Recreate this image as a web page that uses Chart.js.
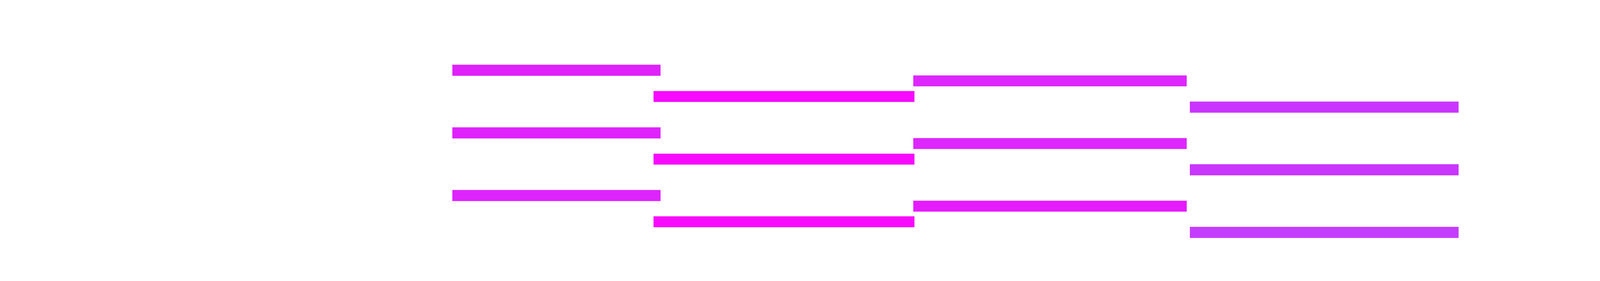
<!DOCTYPE html>
<html>
<head>
<meta charset="utf-8">
<script src="https://cdn.jsdelivr.net/npm/chart.js@4.4.1/dist/chart.umd.min.js"></script>
<style>
    html, body { margin: 0; padding: 0; background: #ffffff; }
    #wrap { width: 7200px; height: 720px; position: relative; }
</style>
</head>
<body>
<div id="wrap"><canvas id="ganttChart"></canvas></div>
<script>
// --- Data ---
const rows = ['A', 'B', 'C'];

// x range of each phase, one value per row
const phase1Start = [115.8, 115.8, 115.8];
const phase1End   = [169.1, 169.1, 169.1];
const phase2Start = [167.3, 167.3, 167.3];
const phase2End   = [234.1, 234.1, 234.1];
const phase3Start = [233.8, 233.8, 233.8];
const phase3End   = [303.8, 303.8, 303.8];
const phase4Start = [304.6, 304.6, 304.6];
const phase4End   = [373.4, 373.4, 373.4];

// per bar colours
const phase1Colors = ['#DF22FB', '#DF22FB', '#DD24FC'];
const phase2Colors = ['#F70AFD', '#F70AFD', '#F80AFE'];
const phase3Colors = ['#DD27FD', '#DD27FD', '#E51CFE'];
const phase4Colors = ['#C936FD', '#C936FD', '#C53DFC'];

const ranges = (starts, ends) => starts.map((s, i) => [s, ends[i]]);

document.addEventListener('DOMContentLoaded', () => {
    const ctx = document.getElementById('ganttChart').getContext('2d');
    new Chart(ctx, {
        type: 'bar',
        data: {
            labels: rows,
            datasets: [
                // order here is top-to-bottom inside each row
                { label: 'Phase 1', data: ranges(phase1Start, phase1End), backgroundColor: phase1Colors,
                  categoryPercentage: 0.785, barPercentage: 0.9 },
                { label: 'Phase 3', data: ranges(phase3Start, phase3End), backgroundColor: phase3Colors,
                  categoryPercentage: 1.0, barPercentage: 0.7 },
                { label: 'Phase 2', data: ranges(phase2Start, phase2End), backgroundColor: phase2Colors,
                  categoryPercentage: 1.0, barPercentage: 0.7 },
                { label: 'Phase 4', data: ranges(phase4Start, phase4End), backgroundColor: phase4Colors,
                  categoryPercentage: 0.785, barPercentage: 0.9 }
            ]
        },
        options: {
            indexAxis: 'y',
            responsive: true,
            maintainAspectRatio: false,
            animation: false,
            layout: { padding: { top: 147, bottom: 91.5, left: 0, right: 0 } },
            scales: {
                x: { type: 'linear', min: 0, max: 720, display: false },
                y: { display: false }
            },
            plugins: {
                legend: { display: false },
                tooltip: { enabled: false }
            }
        }
    });
});
</script>
</body>
</html>
